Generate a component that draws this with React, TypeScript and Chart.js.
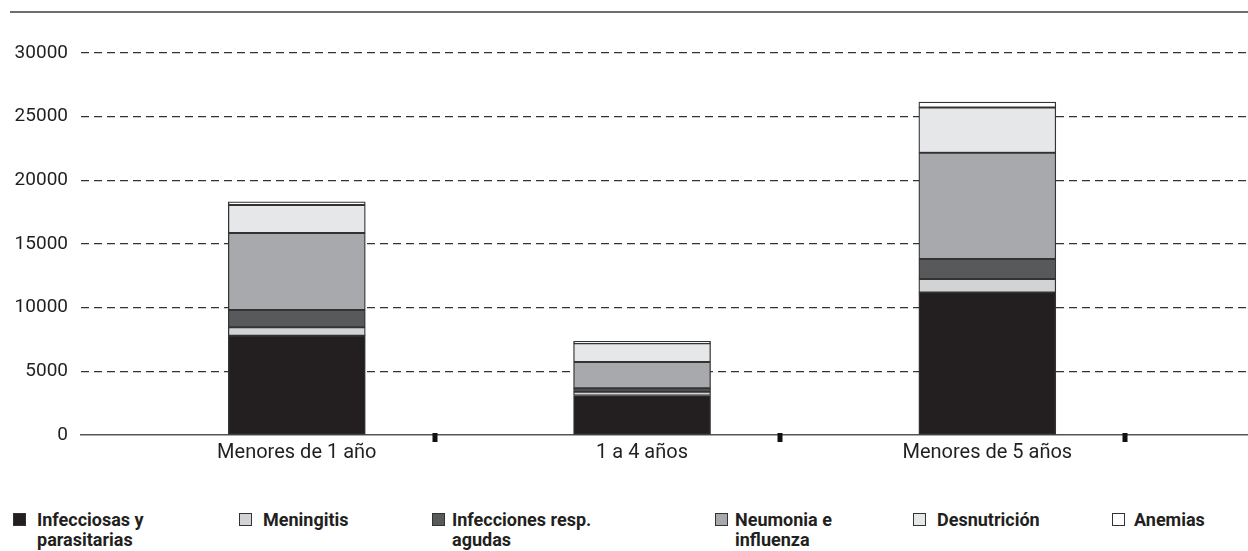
import React, { useEffect, useRef } from "react";
import { Chart, registerables } from "chart.js";

Chart.register(...registerables);

// ---- data ----
const categories = ["Menores de 1 año", "1 a 4 años", "Menores de 5 años"];
const seriesNames = [
  "Infecciosas y parasitarias",
  "Meningitis",
  "Infecciones resp. agudas",
  "Neumonia e influenza",
  "Desnutrición",
  "Anemias",
];
const legendLines = [
  ["Infecciosas y", "parasitarias"],
  ["Meningitis"],
  ["Infecciones resp.", "agudas"],
  ["Neumonia e", "influenza"],
  ["Desnutrición"],
  ["Anemias"],
];
const infecciosas = [7800, 3100, 11200];
const meningitis = [660, 300, 1050];
const infeccionesResp = [1360, 265, 1570];
const neumonia = [6040, 2065, 8345];
const desnutricion = [2200, 1465, 3560];
const anemias = [260, 157, 420];
const yTicks = [0, 5000, 10000, 15000, 20000, 25000, 30000];

// ---- styles / layout ----
const seriesValues = [infecciosas, meningitis, infeccionesResp, neumonia, desnutricion, anemias];
const colors = ["#231f20", "#d1d3d4", "#58595b", "#a7a9ac", "#e6e7e8", "#ffffff"];
const legendSquareX = [13, 239, 432, 715, 913, 1112];
const legendTextX = [37, 263, 452, 735, 937, 1134];
const tickMarkValues = [0.4, 1.4, 2.4];
const textColor = "#231f20";

const tickMarksPlugin = {
  id: "tickMarks",
  afterDraw(chart: any) {
    const xs = chart.scales.x;
    const ctx = chart.ctx;
    ctx.save();
    ctx.fillStyle = "#111111";
    tickMarkValues.forEach((v) => {
      const px = Math.round(xs.getPixelForValue(v));
      ctx.fillRect(px - 2.5, xs.top - 2, 5, 9);
    });
    ctx.restore();
  },
};

export default function App() {
  const ref = useRef<HTMLCanvasElement>(null);

  useEffect(() => {
    if (!ref.current) return;
    const chart = new Chart(ref.current, {
      type: "bar",
      data: {
        datasets: seriesValues.map((vals, i) => ({
          label: seriesNames[i],
          data: vals.map((v, j) => ({ x: j, y: v })),
          backgroundColor: colors[i],
          borderColor: "#333333",
          borderWidth: 1.3,
          borderSkipped: false,
          barThickness: 137,
        })),
      },
      options: {
        animation: false,
        responsive: false,
        maintainAspectRatio: false,
        layout: { padding: { top: 53, left: 0, right: 0, bottom: 0 } },
        plugins: {
          legend: { display: false },
          tooltip: { enabled: false },
        },
        scales: {
          x: {
            type: "linear",
            stacked: true,
            offset: false,
            bounds: "ticks",
            min: -0.625,
            max: 2.755,
            grid: { display: false, drawTicks: false, offset: false },
            border: { display: true, color: "#555555", width: 1.5 },
            afterBuildTicks: (s: any) => {
              s.ticks = categories.map((_, i) => ({ value: i }));
            },
            afterFit: (s: any) => {
              s.height = 45;
            },
            ticks: {
              autoSkip: false,
              maxRotation: 0,
              padding: 6,
              color: textColor,
              font: { family: "Roboto", size: 20 },
              callback: (v: any) => categories[v as number] ?? "",
            },
          },
          y: {
            stacked: true,
            min: 0,
            max: 30000,
            afterBuildTicks: (s: any) => {
              s.ticks = yTicks.map((v) => ({ value: v }));
            },
            afterFit: (s: any) => {
              s.width = 81;
            },
            grid: {
              drawTicks: false,
              lineWidth: 1.3,
              color: (ctx: any) => (ctx.tick && ctx.tick.value === 0 ? "rgba(0,0,0,0)" : "#333333"),
            },
            border: { display: false, dash: [8, 5] },
            ticks: {
              padding: 13,
              color: textColor,
              font: { family: "Roboto", size: 19 },
              callback: (v: any) => String(v),
            },
          },
        },
      },
      plugins: [tickMarksPlugin],
    } as any);
    return () => chart.destroy();
  }, []);

  return (
    <div
      style={{
        position: "absolute",
        left: 0,
        top: 0,
        width: 1248,
        height: 551,
        background: "#ffffff",
        overflow: "hidden",
      }}
    >
      <div
        style={{
          position: "absolute",
          left: 10,
          top: 11,
          width: 1238,
          height: 2,
          background: "#6d6e71",
        }}
      />
      <canvas
        ref={ref}
        width={1248}
        height={480}
        style={{ position: "absolute", left: 0, top: 0, width: 1248, height: 480 }}
      />
      {legendLines.map((lines, i) => (
        <React.Fragment key={i}>
          <div
            style={{
              position: "absolute",
              left: legendSquareX[i],
              top: 513,
              width: 11,
              height: 11,
              background: colors[i],
              border: "1px solid #333333",
            }}
          />
          <div
            style={{
              position: "absolute",
              left: legendTextX[i],
              top: 510,
              fontFamily: "Roboto, sans-serif",
              fontWeight: 700,
              fontSize: 18,
              lineHeight: "20px",
              color: textColor,
              whiteSpace: "nowrap",
            }}
          >
            {lines.map((l, k) => (
              <div key={k}>{l}</div>
            ))}
          </div>
        </React.Fragment>
      ))}
    </div>
  );
}
